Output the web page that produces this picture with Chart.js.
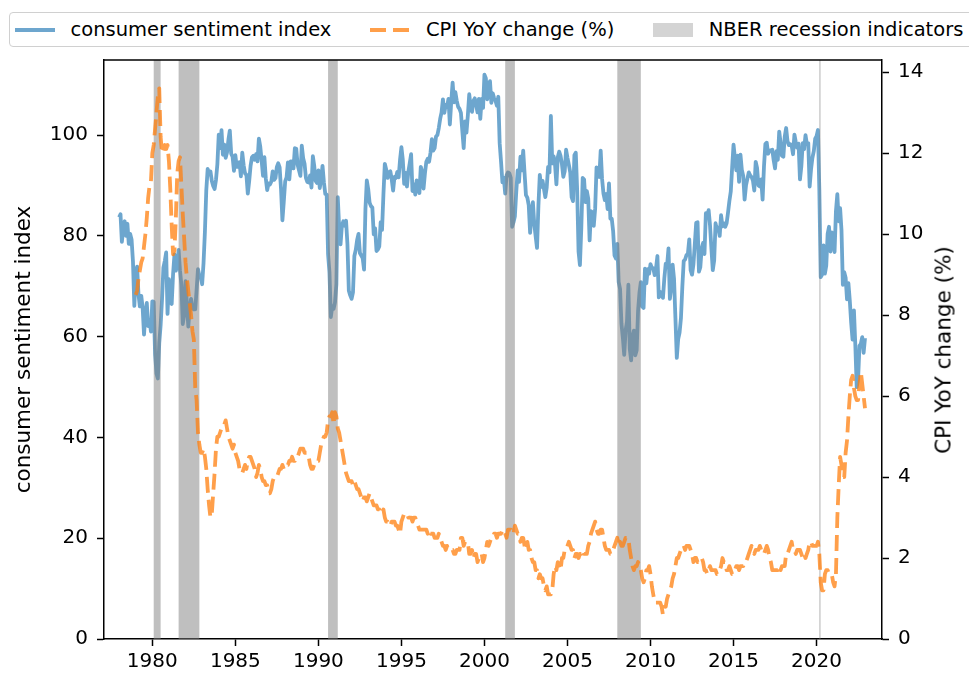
<!DOCTYPE html>
<html>
<head>
<meta charset="utf-8">
<script src="https://cdn.jsdelivr.net/npm/chart.js@4.4.1/dist/chart.umd.min.js"></script>
<style>
  body { margin: 0; background: #fff; overflow: hidden; font-family: 'DejaVu Sans', sans-serif; }
  #wrap { position: relative; width: 969px; height: 675px; overflow: hidden; }
  #legend {
    position: absolute; left: 9px; top: 12px; width: 1000px; height: 35px;
    box-sizing: border-box; border: 1px solid #d0d0d0; border-radius: 4px;
    background: #fff; display: flex; align-items: center; padding-left: 5px;
    font-size: 19.5px; color: #000; white-space: nowrap;
  }
  .item { display: flex; align-items: center; margin-right: 39px; }
  .item svg { margin-right: 15.5px; display: block; }
  #rtitle {
    position: absolute; left: 943px; top: 350px; font-size: 21.5px; color: #000;
    transform: translate(-50%, -50%) rotate(-90deg); white-space: nowrap;
  }
</style>
</head>
<body>
<div id="wrap">
  <canvas id="chart" width="969" height="675"></canvas>
  <div id="legend">
    <div class="item"><svg width="40" height="20"><line x1="0" y1="10" x2="40" y2="10" stroke="rgba(31,119,180,0.65)" stroke-width="3.8"/></svg><span>consumer sentiment index</span></div>
    <div class="item"><svg width="40" height="20"><line x1="0" y1="10" x2="40" y2="10" stroke="rgba(255,127,14,0.75)" stroke-width="3.8" stroke-dasharray="16 7"/></svg><span>CPI YoY change (%)</span></div>
    <div class="item"><svg width="40" height="20"><rect x="0" y="3" width="40" height="14" fill="#d4d4d4"/></svg><span>NBER recession indicators</span></div>
  </div>
  <div id="rtitle">CPI YoY change (%)</div>
</div>
<script>
// monthly values, first month = January of the start year
const sentimentStart = 1978;
const sentiment = [
  83.7, 84.3, 78.8, 81.6, 82.9, 80.0, 82.4, 78.4, 80.4, 79.3, 75.0, 66.1,   // 1978
  72.1, 73.9, 68.4, 66.0, 68.1, 65.8, 60.4, 64.5, 66.7, 62.1, 63.3, 61.0,   // 1979
  67.0, 66.9, 56.5, 52.7, 51.7, 58.7, 62.3, 67.3, 73.7, 75.0, 76.7, 64.5,   // 1980
  71.4, 66.9, 66.5, 72.4, 76.3, 73.1, 74.1, 77.2, 73.1, 70.3, 62.5, 64.3,   // 1981
  71.0, 66.5, 62.0, 65.5, 67.5, 65.7, 65.4, 65.4, 69.3, 73.4, 72.1, 71.9,   // 1982
  70.4, 74.6, 80.8, 89.1, 93.3, 92.2, 92.8, 90.9, 89.9, 89.3, 91.1, 94.2,   // 1983
  100.1, 97.4, 101.0, 96.1, 98.1, 95.5, 96.6, 99.1, 100.9, 96.3, 95.7, 92.9, // 1984
  96.0, 93.7, 93.7, 94.6, 91.8, 96.5, 94.0, 92.4, 92.1, 88.4, 90.9, 93.9,   // 1985
  95.6, 95.9, 95.1, 96.2, 94.8, 99.3, 97.7, 94.9, 91.9, 95.6, 91.4, 89.1,   // 1986
  90.4, 90.2, 90.8, 92.8, 91.1, 91.5, 93.7, 94.4, 93.6, 89.3, 83.1, 86.8,   // 1987
  90.8, 91.6, 94.6, 91.2, 94.8, 94.7, 93.4, 97.4, 97.3, 94.1, 93.0, 91.9,   // 1988
  97.9, 95.4, 94.3, 91.5, 90.7, 90.6, 92.0, 89.6, 95.8, 93.9, 90.9, 90.5,   // 1989
  93.0, 89.5, 91.3, 93.9, 90.6, 88.3, 88.2, 76.4, 72.8, 63.9, 66.0, 65.5,   // 1990
  66.8, 70.4, 87.7, 81.8, 78.3, 82.1, 82.9, 82.0, 83.0, 78.3, 69.1, 68.2,   // 1991
  67.5, 68.8, 76.0, 77.2, 79.2, 80.4, 76.6, 76.1, 75.6, 73.3, 85.3, 91.0,   // 1992
  89.3, 86.6, 85.9, 85.6, 80.3, 81.5, 77.0, 77.3, 77.9, 82.7, 81.2, 88.2,   // 1993
  94.3, 93.2, 91.5, 92.6, 92.8, 91.2, 89.0, 91.7, 91.5, 92.7, 91.6, 95.1,   // 1994
  97.6, 95.1, 90.3, 92.5, 89.8, 92.7, 94.4, 96.2, 88.9, 90.2, 88.2, 91.0,   // 1995
  89.3, 88.5, 93.7, 92.7, 89.4, 92.4, 94.7, 95.3, 94.7, 96.5, 99.2, 96.9,   // 1996
  97.4, 99.7, 100.0, 101.4, 103.2, 104.5, 107.1, 104.4, 106.0, 105.6, 107.2, 102.1, // 1997
  106.6, 110.4, 106.5, 108.5, 106.8, 105.6, 105.2, 104.4, 100.9, 97.4, 102.7, 100.5, // 1998
  103.9, 108.1, 105.7, 104.6, 106.8, 107.3, 106.0, 104.5, 107.2, 103.2, 107.2, 105.4, // 1999
  112.0, 111.3, 107.1, 109.2, 110.7, 106.4, 108.3, 107.3, 106.8, 105.8, 107.6, 98.4, // 2000
  94.7, 90.6, 91.5, 88.4, 92.0, 92.6, 92.4, 91.5, 81.8, 82.7, 83.9, 88.8,   // 2001
  93.0, 90.7, 95.7, 93.0, 96.9, 92.4, 88.1, 87.6, 86.1, 80.6, 84.2, 86.7,   // 2002
  82.4, 79.9, 77.6, 86.0, 92.1, 89.7, 90.9, 89.3, 87.7, 89.6, 93.7, 92.6,   // 2003
  103.8, 94.4, 95.8, 94.2, 90.2, 95.6, 96.7, 95.9, 94.2, 91.7, 92.8, 97.1,  // 2004
  95.5, 94.1, 92.6, 87.7, 86.9, 96.0, 96.5, 89.1, 76.9, 74.2, 81.6, 91.5,   // 2005
  91.2, 86.7, 88.9, 87.4, 79.1, 84.9, 84.7, 82.0, 85.4, 93.6, 92.1, 91.7,   // 2006
  96.9, 91.3, 88.4, 87.1, 88.3, 85.3, 90.4, 83.4, 83.4, 80.9, 76.1, 75.5,   // 2007
  78.4, 70.8, 69.5, 62.6, 59.8, 56.4, 61.2, 63.0, 70.3, 57.6, 55.3, 60.1,   // 2008
  61.2, 56.3, 57.3, 65.1, 68.7, 70.8, 66.0, 65.7, 73.5, 70.6, 73.4, 72.5,   // 2009
  74.4, 73.6, 73.6, 72.2, 73.6, 76.0, 67.8, 68.9, 68.2, 67.7, 71.6, 74.5,   // 2010
  74.2, 77.5, 67.5, 69.8, 74.3, 71.5, 63.7, 55.8, 59.5, 60.8, 63.7, 69.9,   // 2011
  75.0, 75.3, 76.2, 76.4, 79.3, 73.2, 72.3, 74.3, 78.3, 82.6, 82.7, 72.9,   // 2012
  73.8, 77.6, 78.6, 76.4, 84.5, 84.1, 85.1, 82.1, 77.5, 73.2, 75.1, 82.5,   // 2013
  81.2, 81.6, 80.0, 84.1, 81.9, 82.5, 81.8, 82.5, 84.6, 86.9, 88.8, 93.6,   // 2014
  98.1, 95.4, 93.0, 95.9, 90.7, 96.1, 93.1, 91.9, 87.2, 90.0, 91.3, 92.6,   // 2015
  92.0, 91.7, 91.0, 89.0, 94.7, 93.5, 90.0, 89.8, 91.2, 87.2, 93.8, 98.2,   // 2016
  98.5, 96.3, 96.9, 97.0, 97.1, 95.0, 93.4, 96.8, 95.1, 100.7, 98.5, 95.9,  // 2017
  95.7, 99.7, 101.4, 98.8, 98.0, 98.2, 97.9, 96.2, 100.1, 98.6, 97.5, 98.3, // 2018
  91.2, 93.8, 98.4, 97.2, 100.0, 98.2, 98.4, 89.8, 93.2, 95.5, 96.8, 99.3,  // 2019
  99.8, 101.0, 89.1, 71.8, 72.3, 78.1, 72.5, 74.1, 80.4, 81.8, 76.9, 80.7,  // 2020
  79.0, 76.8, 84.9, 88.3, 82.9, 85.5, 81.2, 70.3, 72.8, 71.7, 67.4, 70.6,   // 2021
  67.2, 62.8, 59.4, 65.2, 58.4, 50.0, 51.5, 58.2, 58.6, 59.9, 56.8, 59.7    // 2022
];

const cpiStart = 1979;
const cpiYoY = [
  8.5, 8.6, 8.9, 9.1, 9.3, 9.4, 9.7, 10.0, 10.4, 10.9, 11.2, 11.3,   // 1979
  12.0, 12.2, 12.6, 13.0, 13.4, 13.6, 12.4, 12.0, 12.1, 12.2, 12.1, 12.2, // 1980
  11.8, 11.1, 10.2, 9.5, 9.6, 10.4, 11.5, 11.8, 11.9, 11.2, 10.5, 9.9,  // 1981
  9.3, 8.9, 8.6, 8.3, 8.0, 7.6, 7.4, 6.2, 5.9, 5.1, 4.8, 4.6,          // 1982
  4.6, 4.7, 4.5, 4.2, 3.7, 3.3, 3.0, 3.1, 3.6, 4.1, 4.7, 5.0,          // 1983
  5.0, 5.1, 5.2, 5.3, 5.3, 5.4, 5.2, 5.0, 4.9, 4.8, 4.7, 4.8,          // 1984
  4.6, 4.5, 4.4, 4.2, 4.2, 4.1, 4.2, 4.3, 4.2, 4.4, 4.5, 4.5,          // 1985
  4.4, 4.3, 4.2, 4.0, 4.1, 4.3, 4.2, 4.0, 3.9, 3.9, 3.8, 3.8,          // 1986
  3.6, 3.6, 3.7, 3.9, 4.0, 4.0, 4.0, 4.1, 4.2, 4.2, 4.3, 4.2,          // 1987
  4.3, 4.3, 4.3, 4.4, 4.4, 4.5, 4.4, 4.4, 4.5, 4.5, 4.6, 4.7,          // 1988
  4.7, 4.7, 4.6, 4.6, 4.6, 4.5, 4.3, 4.2, 4.2, 4.3, 4.4, 4.4,          // 1989
  4.4, 4.6, 4.8, 4.9, 5.0, 5.0, 5.1, 5.4, 5.5, 5.5, 5.6, 5.3,          // 1990
  5.6, 5.5, 5.2, 5.1, 4.9, 4.7, 4.5, 4.3, 4.1, 4.0, 3.9, 3.9,          // 1991
  3.9, 3.8, 3.9, 3.8, 3.7, 3.7, 3.6, 3.5, 3.4, 3.5, 3.5, 3.4,          // 1992
  3.5, 3.6, 3.5, 3.4, 3.3, 3.3, 3.3, 3.2, 3.2, 3.1, 3.1, 3.2,          // 1993
  3.0, 2.9, 2.9, 2.8, 2.8, 2.9, 2.9, 2.9, 2.8, 2.8, 2.7, 2.6,          // 1994
  2.9, 3.0, 3.1, 3.1, 3.1, 3.0, 3.0, 3.0, 2.9, 3.0, 3.0, 2.9,          // 1995
  2.8, 2.7, 2.7, 2.7, 2.7, 2.7, 2.7, 2.6, 2.7, 2.6, 2.6, 2.6,          // 1996
  2.5, 2.5, 2.5, 2.6, 2.5, 2.4, 2.3, 2.3, 2.2, 2.3, 2.2, 2.2,          // 1997
  2.2, 2.2, 2.1, 2.1, 2.2, 2.2, 2.2, 2.5, 2.5, 2.3, 2.4, 2.4,          // 1998
  2.4, 2.1, 2.1, 2.2, 2.0, 2.1, 2.1, 1.9, 2.0, 2.1, 2.1, 1.9,          // 1999
  2.0, 2.2, 2.4, 2.3, 2.4, 2.5, 2.5, 2.6, 2.6, 2.5, 2.6, 2.6,          // 2000
  2.6, 2.7, 2.7, 2.6, 2.5, 2.7, 2.7, 2.7, 2.6, 2.6, 2.8, 2.7,          // 2001
  2.6, 2.6, 2.4, 2.5, 2.5, 2.3, 2.2, 2.4, 2.2, 2.2, 2.0, 1.9,          // 2002
  1.9, 1.7, 1.7, 1.5, 1.6, 1.5, 1.5, 1.3, 1.2, 1.3, 1.1, 1.1,          // 2003
  1.1, 1.2, 1.6, 1.8, 1.7, 1.9, 1.8, 1.7, 2.0, 2.0, 2.2, 2.2,          // 2004
  2.3, 2.4, 2.3, 2.2, 2.2, 2.0, 2.1, 2.1, 2.0, 2.1, 2.1, 2.2,          // 2005
  2.1, 2.1, 2.1, 2.3, 2.4, 2.6, 2.7, 2.8, 2.9, 2.7, 2.6, 2.6,          // 2006
  2.7, 2.7, 2.5, 2.3, 2.2, 2.2, 2.2, 2.1, 2.1, 2.2, 2.3, 2.4,          // 2007
  2.5, 2.3, 2.4, 2.3, 2.3, 2.4, 2.5, 2.5, 2.5, 2.2, 2.0, 1.8,          // 2008
  1.7, 1.8, 1.8, 1.9, 1.8, 1.7, 1.5, 1.4, 1.5, 1.7, 1.7, 1.8,          // 2009
  1.6, 1.3, 1.1, 0.9, 0.9, 0.9, 0.9, 0.9, 0.8, 0.6, 0.8, 0.8,          // 2010
  1.0, 1.1, 1.2, 1.3, 1.5, 1.6, 1.8, 2.0, 2.0, 2.1, 2.2, 2.2,          // 2011
  2.3, 2.2, 2.3, 2.3, 2.3, 2.2, 2.1, 1.9, 2.0, 2.0, 1.9, 1.9,          // 2012
  1.9, 2.0, 1.9, 1.7, 1.7, 1.6, 1.7, 1.8, 1.7, 1.7, 1.7, 1.7,          // 2013
  1.6, 1.6, 1.7, 1.8, 2.0, 1.9, 1.9, 1.7, 1.7, 1.8, 1.7, 1.6,          // 2014
  1.6, 1.7, 1.8, 1.8, 1.7, 1.8, 1.8, 1.8, 1.9, 1.9, 2.0, 2.1,          // 2015
  2.2, 2.3, 2.2, 2.1, 2.2, 2.2, 2.2, 2.3, 2.2, 2.1, 2.1, 2.2,          // 2016
  2.3, 2.2, 2.0, 1.9, 1.7, 1.7, 1.7, 1.7, 1.7, 1.8, 1.7, 1.8,          // 2017
  1.8, 1.8, 2.1, 2.1, 2.2, 2.3, 2.4, 2.2, 2.2, 2.1, 2.2, 2.2,          // 2018
  2.2, 2.1, 2.0, 2.1, 2.0, 2.1, 2.2, 2.4, 2.4, 2.3, 2.3, 2.3,          // 2019
  2.3, 2.4, 2.1, 1.4, 1.2, 1.2, 1.6, 1.7, 1.7, 1.6, 1.6, 1.6,          // 2020
  1.4, 1.3, 1.6, 3.0, 3.8, 4.5, 4.3, 4.0, 4.0, 4.6, 4.9, 5.5,          // 2021
  6.0, 6.4, 6.5, 6.2, 6.0, 5.9, 5.9, 6.3, 6.6, 6.3, 6.0, 5.7           // 2022
];

// NBER recession months (first and last month)
const recessions = [
  ['1980-02', '1980-07'],
  ['1981-08', '1982-11'],
  ['1990-08', '1991-03'],
  ['2001-04', '2001-11'],
  ['2008-01', '2009-06'],
  ['2020-03', '2020-04']
];

const xTickYears = [1980, 1985, 1990, 1995, 2000, 2005, 2010, 2015, 2020];
const sentimentTicks = [0, 20, 40, 60, 80, 100];
const cpiTicks = [0, 2, 4, 6, 8, 10, 12, 14];

const X_MIN = 1977.09, X_MAX = 2023.94;

function monthToYear(s) {
  const [y, m] = s.split('-').map(Number);
  return y + (m - 1) / 12;
}

const sentimentPoints = sentiment.map((v, i) => ({x: sentimentStart + i / 12, y: v}));
const cpiPoints = cpiYoY.map((v, i) => ({x: cpiStart + i / 12, y: v}));
const recessionPoints = [{x: X_MIN, y: 0}];
recessions.forEach(([s, e]) => {
  recessionPoints.push({x: monthToYear(s), y: 1});
  recessionPoints.push({x: monthToYear(e), y: 0});
});

const topSpine = {
  id: 'topSpine',
  afterDraw(chart) {
    const {ctx, chartArea} = chart;
    ctx.save();
    ctx.strokeStyle = '#000';
    ctx.lineWidth = 1.5;
    ctx.beginPath();
    ctx.moveTo(chartArea.left, chartArea.top);
    ctx.lineTo(chartArea.right, chartArea.top);
    ctx.stroke();
    ctx.restore();
  }
};

Chart.defaults.font.family = "'DejaVu Sans', sans-serif";
Chart.defaults.font.size = 20;
Chart.defaults.color = '#000';

const tickGrid = {
  drawOnChartArea: false,
  drawTicks: true,
  tickLength: 7,
  tickWidth: 1.5,
  tickColor: '#000',
  color: '#000'
};
const spine = {display: true, color: '#000', width: 1.5};

new Chart(document.getElementById('chart'), {
  type: 'line',
  data: {
    datasets: [
      {
        label: 'CPI YoY change (%)',
        data: cpiPoints,
        yAxisID: 'yCpi',
        borderColor: 'rgba(255,127,14,0.75)',
        borderWidth: 3.8,
        borderDash: [16, 7],
        borderJoinStyle: 'round',
        pointRadius: 0,
        tension: 0,
        fill: false,
        order: 0
      },
      {
        label: 'NBER recession indicators',
        data: recessionPoints,
        yAxisID: 'yRec',
        stepped: true,
        borderColor: 'rgba(0,0,0,0)',
        borderWidth: 0,
        backgroundColor: 'rgba(128,128,128,0.5)',
        fill: 'origin',
        pointRadius: 0,
        order: 1
      },
      {
        label: 'consumer sentiment index',
        data: sentimentPoints,
        yAxisID: 'y',
        borderColor: 'rgba(31,119,180,0.65)',
        borderWidth: 3.8,
        borderJoinStyle: 'round',
        pointRadius: 0,
        tension: 0,
        fill: false,
        order: 2
      }
    ]
  },
  options: {
    responsive: false,
    animation: false,
    events: [],
    layout: {padding: {top: 60, left: 0, right: 0, bottom: 0}},
    plugins: {
      legend: {display: false},
      tooltip: {enabled: false}
    },
    scales: {
      x: {
        type: 'linear',
        min: X_MIN,
        max: X_MAX,
        grid: tickGrid,
        border: spine,
        afterBuildTicks: scale => { scale.ticks = xTickYears.map(v => ({value: v})); },
        afterFit: scale => { scale.height = 36; },
        ticks: {
          autoSkip: false,
          maxRotation: 0,
          padding: 4,
          callback: v => String(v)
        }
      },
      y: {
        type: 'linear',
        position: 'left',
        min: 0,
        max: 114.9,
        grid: tickGrid,
        border: spine,
        afterBuildTicks: scale => { scale.ticks = sentimentTicks.map(v => ({value: v})); },
        afterFit: scale => { scale.width = 104; },
        ticks: {padding: 9, callback: v => String(v)},
        title: {
          display: true,
          text: 'consumer sentiment index',
          font: {size: 21.5},
          padding: {top: 12, bottom: 0}
        }
      },
      yCpi: {
        type: 'linear',
        position: 'right',
        min: 0,
        max: 14.3,
        grid: tickGrid,
        border: spine,
        afterBuildTicks: scale => { scale.ticks = cpiTicks.map(v => ({value: v})); },
        afterFit: scale => { scale.width = 87; },
        ticks: {padding: 9, callback: v => String(v)}
      },
      yRec: {
        type: 'linear',
        display: false,
        min: 0,
        max: 1
      }
    }
  },
  plugins: [topSpine]
});
</script>
</body>
</html>
